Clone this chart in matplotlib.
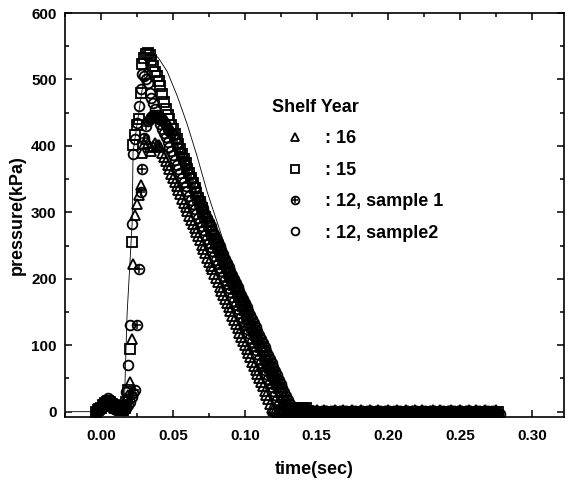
import numpy as np
import matplotlib
matplotlib.use("Agg")
import matplotlib.pyplot as plt
from matplotlib.ticker import MultipleLocator, FormatStrFormatter
from matplotlib.legend_handler import HandlerTuple

plt.rcParams['font.family'] = ['Liberation Sans', 'DejaVu Sans']

# recorder sample clock (sec)
t_start = -0.00375
dt = 0.00125

# shelf year 16 (triangles), kPa
pulse16 = [2, 4, 6, 8, 10, 12, 14, 12, 10, 8, 6, 5, 4, 3, 2, 3,
           8, 20, 25, 44, 109, 222, 296, 313, 326, 341,
           390, 403, 410, 405, 398, 392, 400, 405, 402, 402,
           398, 390, 383, 378, 372, 365, 358,
           352, 346, 339, 333, 327, 320, 314, 308, 302, 295,
           289, 283, 276, 270, 264, 258, 251, 245, 239, 232,
           226, 220, 214, 207, 201, 195, 188, 182, 176, 170,
           163, 157, 151, 144, 138, 132, 126, 119, 113, 107,
           100, 94, 88, 82, 75, 69, 63, 56, 50, 44,
           38, 31, 25, 19, 12, 6, 2]
tail16 = [1, 0, 1, 2, 1, 0, 1, 1, 2, 1, 0, 1, 2, 1, 1, 0, 1, 2, 1, 1,
          0, 1, 1, 2, 1, 0, 1, 2, 1, 1, 0, 1, 1, 2, 1, 0, 1, 1, 2, 1,
          1, 0, 1, 2, 1, 1, 0, 1, 2, 1, 0, 1, 1, 2, 1, 0, 1, 2, 1, 1,
          0, 1, 1, 2, 1, 0, 1, 1, 2, 1, 1, 0, 1, 2, 1, 0, 1, 1, 2, 1,
          0, 1, 2, 1, 1, 0, 1, 1, 2, 1, 0, 1, 2, 1, 1, 0, 1, 1, 2, 1,
          1, 0, 1, 2, 1, 0, 1, 1, 2, 1, 0, 1, 2, 1, 1, 0, 1, 2, 1, 1,
          0, 1, 1, 2]

# shelf year 15 (squares)
pulse15 = [0, 2, 4, 6, 10, 13, 15, 16, 14, 12, 10, 8, 6, 4, 3, 2,
           5, 15, 33, 94, 255, 402, 417, 432, 441, 480,
           524, 532, 538, 540, 537, 530, 520, 512, 505, 498,
           490, 478, 466, 456, 447,
           440, 432, 425, 418, 410, 403, 396, 388, 381, 374,
           366, 359, 352, 344, 337, 329, 322, 315, 307, 300, 293, 285,
           279, 272, 266, 260, 253, 247, 241, 235, 228, 222,
           216, 209, 203, 197, 190, 184, 178, 172, 165, 159, 153, 146, 140, 134,
           128, 122, 115, 109, 103, 97, 91, 84, 78, 72,
           66, 60, 53, 47, 41, 35, 29, 22, 16, 10, 4, 0]
tail15 = [-1, 0, 2, 5, 6, 5, 6, 4, 5, 1, -1, 0, -1, -2, -1, 0, -1, -1, -2, -1,
          0, -1, -2, -1, -1, 0, -1, -2, -1, 0, -1, -1, -2, -1, 0, -1, -2, -1, -1, 0,
          -1, -2, -1, 0, -1, -1, -2, -1, 0, -1, -2, -1, -1, 0, -1, -2, -1, 0, -1, -1,
          -2, -1, 0, -1, -2, -1, -1, 0, -1, -2, -1, 0, -1, -1, -2, -1, 0, -1, -2, -1,
          -1, 0, -1, -2, -1, 0, -1, -1, -2, -1, 0, -1, -2, -1, -1, 0, -1, -2, -1, 0,
          -1, -1, -2, -1, 0, -1, -2, -1, -1, 0, -1, -2, -1, 0, -1, -1]

# shelf year 12, sample 1 (crossed circles)
pulse12a = [0, 1, 3, 5, 8, 10, 12, 15, 17, 15, 12, 10, 8, 6, 4, 3,
            4, 6, 10, 15, 22, 28, 33, 130, 215, 330,
            365, 412, 430, 437, 440, 444, 446, 445, 443, 442,
            441, 440, 436, 431, 426, 423, 420, 417,
            410, 404, 397, 391, 384, 377, 371, 364, 357, 351,
            344, 338, 331, 324, 318, 311, 305, 298, 291, 285,
            279, 273, 267, 261, 255, 249, 243, 237, 230, 224,
            218, 212, 206, 200, 194, 188, 182, 176, 170, 164,
            158, 152, 145, 139, 133, 127, 121, 115, 109, 103,
            97, 91, 85, 79, 73, 67, 61, 55, 48, 42,
            36, 30, 24, 18, 12, 6, 1]
tail12a = [-2, -3, -4, -3, -2, -3, -4, -3, -3, -2, -3, -4, -3, -2, -3, -3, -4, -3, -2, -3,
           -4, -3, -3, -2, -3, -4, -3, -2, -3, -3, -4, -3, -2, -3, -4, -3, -3, -2, -3, -4,
           -3, -2, -3, -3, -4, -3, -2, -3, -4, -3, -3, -2, -3, -4, -3, -2, -3, -3, -4, -3,
           -2, -3, -4, -3, -3, -2, -3, -4, -3, -2, -3, -3, -4, -3, -2, -3, -4, -3, -3, -2,
           -3, -4, -3, -2, -3, -3, -4, -3, -2, -3, -4, -3, -3, -2, -3, -4, -3, -2, -3, -3,
           -4, -3, -2, -3, -4, -3, -3, -2, -3, -4, -3, -2, -3, -3]

# shelf year 12, sample2 (open circles)
pulse12b = [0, 3, 5, 8, 12, 16, 18, 20, 18, 15, 12, 10, 8, 5, 4, 6,
            10, 30, 70, 131, 282, 388, 410, 434, 460, 486,
            509, 505, 500, 495, 479, 472, 464, 455, 447, 440,
            433, 426, 420, 413, 406, 399, 393, 386, 379, 372,
            366, 359, 352, 345, 339, 332, 325, 318, 312, 305, 298, 291, 285,
            279, 273, 266, 260, 254, 248, 242, 235, 229, 223,
            217, 211, 204, 198, 192, 186, 180, 173, 167, 161,
            155, 149, 142, 136, 130, 124, 118, 111, 105, 99,
            93, 87, 80, 74, 68, 62, 56, 49, 43, 37,
            31, 25, 18, 12, 6, 1]
tail12b = [-1, -2, -3, -2, -1, -2, -2, -3, -2, -1, -2, -3, -2, -2, -1, -2, -3, -2, -1, -2,
           -2, -3, -2, -1, -2, -3, -2, -2, -1, -2, -3, -2, -1, -2, -2, -3, -2, -1, -2, -3,
           -2, -2, -1, -2, -3, -2, -1, -2, -2, -3, -2, -1, -2, -3, -2, -2, -1, -2, -3, -2,
           -1, -2, -2, -3, -2, -1, -2, -3, -2, -2, -1, -2, -3, -2, -1, -2, -2, -3, -2, -1,
           -2, -3, -2, -2, -1, -2, -3, -2, -1, -2, -2, -3, -2, -1, -2, -3, -2, -2, -1, -2,
           -3, -2, -1, -2, -2, -3, -2, -1, -2, -3, -2, -2, -1, -2, -3, -2, -1, -2, -2, -3,
           -4]

# thin reference curve
line_t = [-0.020, 0.0160, 0.0180, 0.0216, 0.0222, 0.0280, 0.0327, 0.0360, 0.0400,
          0.0460, 0.0530, 0.0600, 0.0670, 0.0738, 0.0808, 0.0880, 0.0954, 0.1050,
          0.1150, 0.1230, 0.1270, 0.2800]
line_p = [0, 0, 145, 285, 391, 477, 540, 541, 532, 512, 475, 432, 383, 331, 285,
          238, 190, 128, 63, 15, 0, 0]

labels = [': 16', ': 15', ': 12, sample 1', ': 12, sample2']


def clock(p):
    return t_start + dt * np.arange(len(p))


p16 = pulse16 + tail16
p15 = pulse15 + tail15
p12a = pulse12a + tail12a
p12b = pulse12b + tail12b

fig = plt.figure(figsize=(5.69, 4.82), dpi=100)
ax = fig.add_axes([0.1142, 0.1349, 0.877, 0.838])

ax.plot(line_t, line_p, color='black', lw=0.6, zorder=1)

mk = dict(linestyle='none', mfc='none', mec='black', mew=1.3)
h15, = ax.plot(clock(p15), p15, marker='s', ms=6.5, **mk)
h12a_c, = ax.plot(clock(p12a), p12a, marker='o', ms=7, **mk)
h12a_p, = ax.plot(clock(p12a), p12a, marker='+', ms=6, linestyle='none',
                  color='black', mew=1.1)
h16, = ax.plot(clock(p16), p16, marker='^', ms=7, **mk)
h12b, = ax.plot(clock(p12b), p12b, marker='o', ms=7, **mk)

ax.set_xlim(-0.0252, 0.3223)
ax.set_ylim(-8, 600)
ax.xaxis.set_major_locator(MultipleLocator(0.05))
ax.xaxis.set_minor_locator(MultipleLocator(0.025))
ax.xaxis.set_major_formatter(FormatStrFormatter('%.2f'))
ax.yaxis.set_major_locator(MultipleLocator(100))
ax.yaxis.set_minor_locator(MultipleLocator(50))
ax.tick_params(which='both', direction='in', top=True, right=True, width=1.1)
ax.tick_params(which='major', length=5)
ax.tick_params(which='minor', length=3)
ax.tick_params(axis='x', pad=9)
ax.tick_params(axis='y', pad=6)
for lab in ax.get_xticklabels() + ax.get_yticklabels():
    lab.set_fontsize(11)
    lab.set_fontweight('bold')
for sp in ax.spines.values():
    sp.set_linewidth(1.2)

ax.set_xlabel('time(sec)', fontsize=13, fontweight='bold')
ax.set_ylabel('pressure(kPa)', fontsize=13, fontweight='bold')
ax.xaxis.set_label_coords(0.5, -0.108)
ax.yaxis.set_label_coords(-0.078, 0.5)

leg = ax.legend([h16, h15, (h12a_c, h12a_p), h12b], labels, title='Shelf Year',
                loc='upper left', bbox_to_anchor=(272 / 569, 1 - 99 / 482),
                bbox_transform=fig.transFigure, frameon=False,
                prop={'size': 13, 'weight': 'bold'},
                title_fontproperties={'size': 13, 'weight': 'bold'},
                handlelength=2.5, handletextpad=0.45,
                labelspacing=0.8, borderpad=0, borderaxespad=0, alignment='left',
                markerscale=0.8, handler_map={tuple: HandlerTuple(ndivide=1)})

fig.savefig('out.png', dpi=100)
